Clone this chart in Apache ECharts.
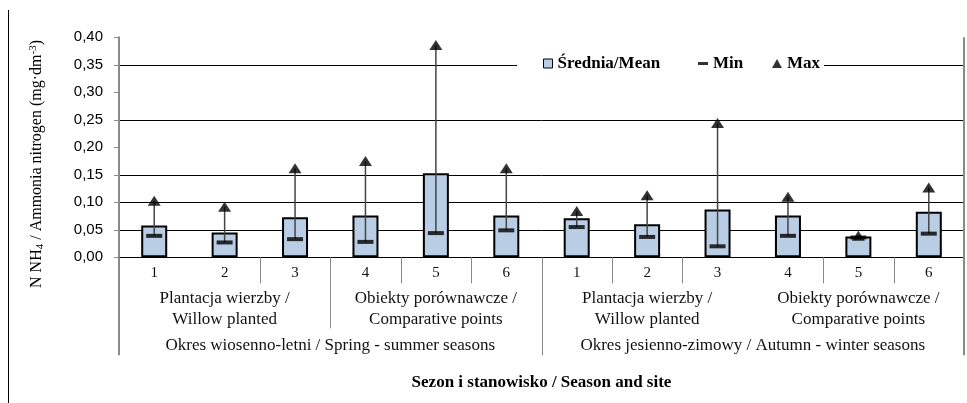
<!DOCTYPE html>
<html>
<head>
<meta charset="utf-8">
<script src="https://cdn.jsdelivr.net/npm/echarts@6/dist/echarts.min.js"></script>
<style>
  html, body { margin: 0; padding: 0; background: #fff; }
  #chart { width: 967px; height: 403px; }
</style>
</head>
<body>
<div id="chart"></div>
<script>
// Sampling sites, their groups and the two seasons
const sites = ['1', '2', '3', '4', '5', '6', '1', '2', '3', '4', '5', '6'];
const siteGroups = [
  'Plantacja wierzby /\nWillow planted',
  'Obiekty porównawcze /\nComparative points',
  'Plantacja wierzby /\nWillow planted',
  'Obiekty porównawcze /\nComparative points'
];
const seasons = [
  'Okres wiosenno-letni / Spring - summer seasons',
  'Okres jesienno-zimowy / Autumn - winter seasons'
];

// Ammonia nitrogen, mg·dm-3
const meanValues = [0.058, 0.045, 0.073, 0.076, 0.153, 0.076, 0.071, 0.060, 0.087, 0.076, 0.038, 0.083];
const minValues  = [0.039, 0.027, 0.033, 0.028, 0.044, 0.049, 0.055, 0.037, 0.020, 0.039, 0.036, 0.043];
const maxValues  = [0.103, 0.092, 0.162, 0.175, 0.386, 0.162, 0.084, 0.113, 0.244, 0.110, 0.039, 0.127];

// Value axis ticks
const yMin = 0, yMax = 0.40, yStep = 0.05;

const SERIF = "'Liberation Serif', 'Times New Roman', serif";
const SANS = "'Liberation Sans', Arial, sans-serif";

const chart = echarts.init(document.getElementById('chart'));

const legendText = { fontFamily: SERIF, fontWeight: 'bold', fontSize: 17, color: '#000', lineHeight: 16 };

const option = {
  animation: false,
  backgroundColor: '#fff',
  grid: { left: 119, right: 3, top: 37.3, bottom: 145.7, containLabel: false },
  legend: [
    {
      data: [{ name: 'Średnia/Mean', icon: 'rect',
               itemStyle: { color: '#B9CDE5', borderColor: '#000', borderWidth: 1 } }],
      left: 543, top: 55, padding: 0, itemWidth: 9, itemHeight: 9, z: 10,
      textStyle: legendText
    },
    {
      data: [{ name: 'Min', icon: 'rect', itemStyle: { color: '#000' } }],
      left: 698, top: 55, padding: 0, itemWidth: 10, itemHeight: 3, z: 10,
      textStyle: legendText
    },
    {
      data: [{ name: 'Max', icon: 'triangle', itemStyle: { color: '#000' } }],
      left: 772, top: 55, padding: 0, itemWidth: 10, itemHeight: 9, z: 10,
      textStyle: legendText
    }
  ],
  xAxis: [
    {
      type: 'category', data: sites, position: 'bottom',
      axisLine: { show: true, lineStyle: { color: '#000', width: 1 } },
      axisTick: { show: false },
      splitLine: { show: false },
      axisLabel: { interval: 0, margin: 8, fontFamily: SERIF, fontSize: 15, color: '#111' },
      name: 'Sezon i stanowisko / Season and site',
      nameLocation: 'middle', nameGap: 117,
      nameTextStyle: { fontFamily: SERIF, fontWeight: 'bold', fontSize: 17, color: '#000' }
    },
    {
      type: 'category', data: siteGroups, position: 'bottom',
      axisLine: { show: false }, axisTick: { show: false }, splitLine: { show: false },
      axisLabel: { interval: 0, margin: 31, lineHeight: 21, fontFamily: SERIF, fontSize: 17, color: '#111' }
    },
    {
      type: 'category', data: seasons, position: 'bottom',
      axisLine: { show: false }, axisTick: { show: false }, splitLine: { show: false },
      axisLabel: { interval: 0, margin: 78, lineHeight: 21, fontFamily: SERIF, fontSize: 17, color: '#111' }
    }
  ],
  yAxis: {
    type: 'value', min: yMin, max: yMax, interval: yStep,
    axisLine: { show: true, lineStyle: { color: '#8a8a8a', width: 2 } },
    axisTick: { show: true, inside: false, length: 5, lineStyle: { color: '#8a8a8a', width: 1 } },
    axisLabel: {
      margin: 16, fontFamily: SANS, fontSize: 15, color: '#000',
      formatter: v => v.toFixed(2).replace('.', ',')
    },
    splitLine: {
      show: true,
      lineStyle: {
        width: 1,
        // gridlines at 0,05 0,10 0,15 0,25 0,35
        color: ['#000', '#000', '#000', '#000', 'rgba(0,0,0,0)', '#000', 'rgba(0,0,0,0)', '#000', 'rgba(0,0,0,0)']
      }
    }
  },
  series: [
    {
      name: 'Średnia/Mean', type: 'bar', xAxisIndex: 0, data: meanValues,
      barWidth: 26, z: 2,
      itemStyle: { color: '#B9CDE5', borderColor: '#000', borderWidth: 2 }
    },
    {
      name: 'range', type: 'custom', xAxisIndex: 0, z: 3, silent: true,
      data: sites.map((_, i) => [i, minValues[i], maxValues[i]]),
      encode: { x: 0, y: [1, 2] },
      renderItem: function (params, api) {
        const lo = api.coord([api.value(0), api.value(1)]);
        const hi = api.coord([api.value(0), api.value(2)]);
        return {
          type: 'line',
          shape: { x1: lo[0], y1: lo[1], x2: hi[0], y2: hi[1] },
          style: { stroke: '#444', lineWidth: 1.5 }
        };
      }
    },
    {
      name: 'Min', type: 'scatter', xAxisIndex: 0, data: minValues, z: 4,
      symbol: 'rect', symbolSize: [16, 4], itemStyle: { color: '#000' }
    },
    {
      name: 'Max', type: 'scatter', xAxisIndex: 0, data: maxValues, z: 5,
      symbol: 'triangle', symbolSize: [13, 10], itemStyle: { color: '#000' }
    }
  ]
};

chart.setOption(option);

// Frame lines, category dividers, legend backdrop and the rotated value-axis title
function drawDecorations() {
  const c0 = chart.convertToPixel({ xAxisIndex: 0 }, 0);
  const c1 = chart.convertToPixel({ xAxisIndex: 0 }, 1);
  const band = c1 - c0;
  const start = c0 - band / 2;
  const yBase = chart.convertToPixel({ yAxisIndex: 0 }, yMin);
  const yTop = chart.convertToPixel({ yAxisIndex: 0 }, yMax);
  const yLegend = chart.convertToPixel({ yAxisIndex: 0 }, 0.35);

  // depth below the axis line of each table row's bottom edge
  const rowBottom = [yBase + 26, yBase + 71, yBase + 98];
  // [band boundary, number of rows it cuts through]
  const dividers = [[2, 1], [3, 2], [4, 1], [5, 1], [6, 3], [7, 1], [8, 1], [10, 1], [11, 1]];

  const elements = [];
  dividers.forEach(([k, rows]) => {
    const x = Math.round(start + k * band) + 0.5;
    elements.push({
      type: 'line', silent: true, z: 1,
      shape: { x1: x, y1: yBase, x2: x, y2: rowBottom[rows - 1] },
      style: { stroke: '#8a8a8a', lineWidth: 1 }
    });
  });

  // left axis continues down through the table, right plot edge
  const xl = start, xr = start + sites.length * band;
  elements.push({
    type: 'line', silent: true, z: 1,
    shape: { x1: xl, y1: yBase, x2: xl, y2: rowBottom[2] },
    style: { stroke: '#8a8a8a', lineWidth: 2 }
  });
  elements.push({
    type: 'line', silent: true, z: 1,
    shape: { x1: xr, y1: yTop, x2: xr, y2: rowBottom[2] },
    style: { stroke: '#8a8a8a', lineWidth: 2 }
  });

  // outer frame edge
  elements.push({
    type: 'line', silent: true, z: 1,
    shape: { x1: 8.5, y1: 10, x2: 8.5, y2: 403 },
    style: { stroke: '#000', lineWidth: 1 }
  });

  // white backdrop behind the legend row
  elements.push({
    type: 'rect', silent: true, z: 6,
    shape: { x: 517, y: yLegend - 8, width: 307, height: 16 },
    style: { fill: '#fff' }
  });

  // value-axis title
  elements.push({
    type: 'text', silent: true, z: 6,
    x: 37, y: 164, rotation: Math.PI / 2,
    style: {
      text: '{t|N NH}{sub|4}{t| / Ammonia nitrogen (mg·dm}{sup|-3}{t|)}',
      align: 'center', verticalAlign: 'middle',
      rich: {
        t: { fontFamily: SERIF, fontSize: 16, fill: '#000', lineHeight: 18 },
        sub: { fontFamily: SERIF, fontSize: 11, fill: '#000', verticalAlign: 'bottom', lineHeight: 18 },
        sup: { fontFamily: SERIF, fontSize: 11, fill: '#000', verticalAlign: 'top', lineHeight: 18 }
      }
    }
  });

  chart.setOption({ graphic: { elements: elements } });
}

drawDecorations();
</script>
</body>
</html>
